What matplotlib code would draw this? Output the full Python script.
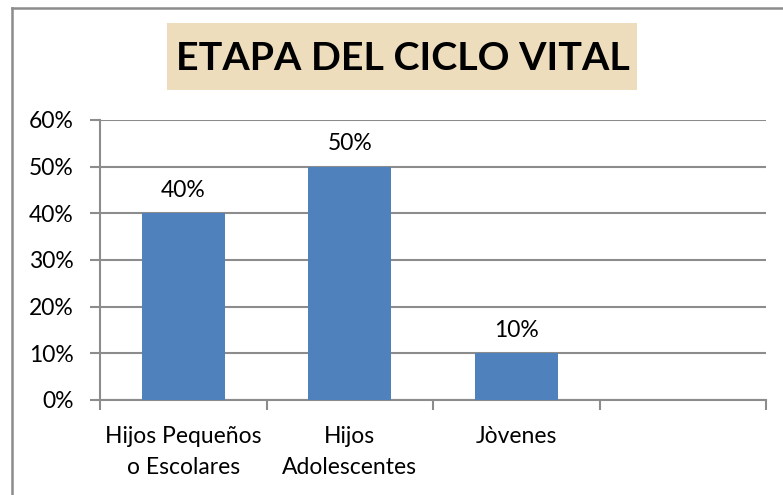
import matplotlib
matplotlib.use("Agg")
import matplotlib.pyplot as plt
from matplotlib.patches import Rectangle
from matplotlib.lines import Line2D

categories = ["Hijos Pequeños\no Escolares", "Hijos\nAdolescentes", "Jòvenes", ""]
values = [40, 50, 10, None]
yticks = [0, 10, 20, 30, 40, 50, 60]
title = "ETAPA DEL CICLO VITAL"

W, H = 783, 495
fig = plt.figure(figsize=(W / 100, H / 100), dpi=100)
plt.rcParams['font.family'] = ['Lato', 'DejaVu Sans']

# outer chart border (left and top visible)
fig.add_artist(Line2D([12 / W, 12 / W], [0, 1 - 8 / H], transform=fig.transFigure, color="#8c8c8c", lw=1.8))
fig.add_artist(Line2D([12 / W, 1.0], [1 - 8 / H, 1 - 8 / H], transform=fig.transFigure, color="#8c8c8c", lw=1.8))

ax = fig.add_axes([100 / W, 95 / H, 666 / W, 280 / H])
x = list(range(len(categories)))
bx = [i for i, v in zip(x, values) if v is not None]
bv = [v for v in values if v is not None]
ax.bar(bx, bv, width=0.5, color="#4F81BD", zorder=3)
for xi, v in zip(bx, bv):
    ax.annotate(f"{v}%", (xi, v), xytext=(0, 9), textcoords="offset points",
                ha="center", va="bottom", fontsize=16.5, color="#000000")

ax.set_xlim(-0.5, len(categories) - 0.5)
ax.set_ylim(0, 60)
ax.set_yticks(yticks)
ax.set_yticklabels([f"{t}%" for t in yticks], fontsize=16.5)
ax.yaxis.grid(True, color="#8c8c8c", lw=1.5, zorder=0)
ax.set_xticks([i - 0.5 for i in range(len(categories) + 1)])
ax.set_xticklabels([])
ax.set_xticks(x, minor=True)
ax.set_xticklabels(categories, minor=True, fontsize=16.5, linespacing=1.55)
ax.tick_params(axis="x", which="minor", length=0, pad=19)
ax.tick_params(axis="x", which="major", length=7, width=1.5, color="#8c8c8c")
ax.tick_params(axis="y", length=7, width=1.5, color="#8c8c8c", pad=12)
for s in ["top", "right"]:
    ax.spines[s].set_visible(False)
for s in ["left", "bottom"]:
    ax.spines[s].set_color("#8c8c8c")
    ax.spines[s].set_linewidth(1.5)

# title box
fig.add_artist(Rectangle((167 / W, 1 - 90 / H), 470 / W, 67 / H, transform=fig.transFigure,
                         facecolor="#EDDDBC", edgecolor="none"))
fig.text(403 / W, 1 - 59 / H, title, ha="center", va="center", fontsize=28.4, fontweight="bold", color="#000000")

fig.savefig("out.png", dpi=100)
